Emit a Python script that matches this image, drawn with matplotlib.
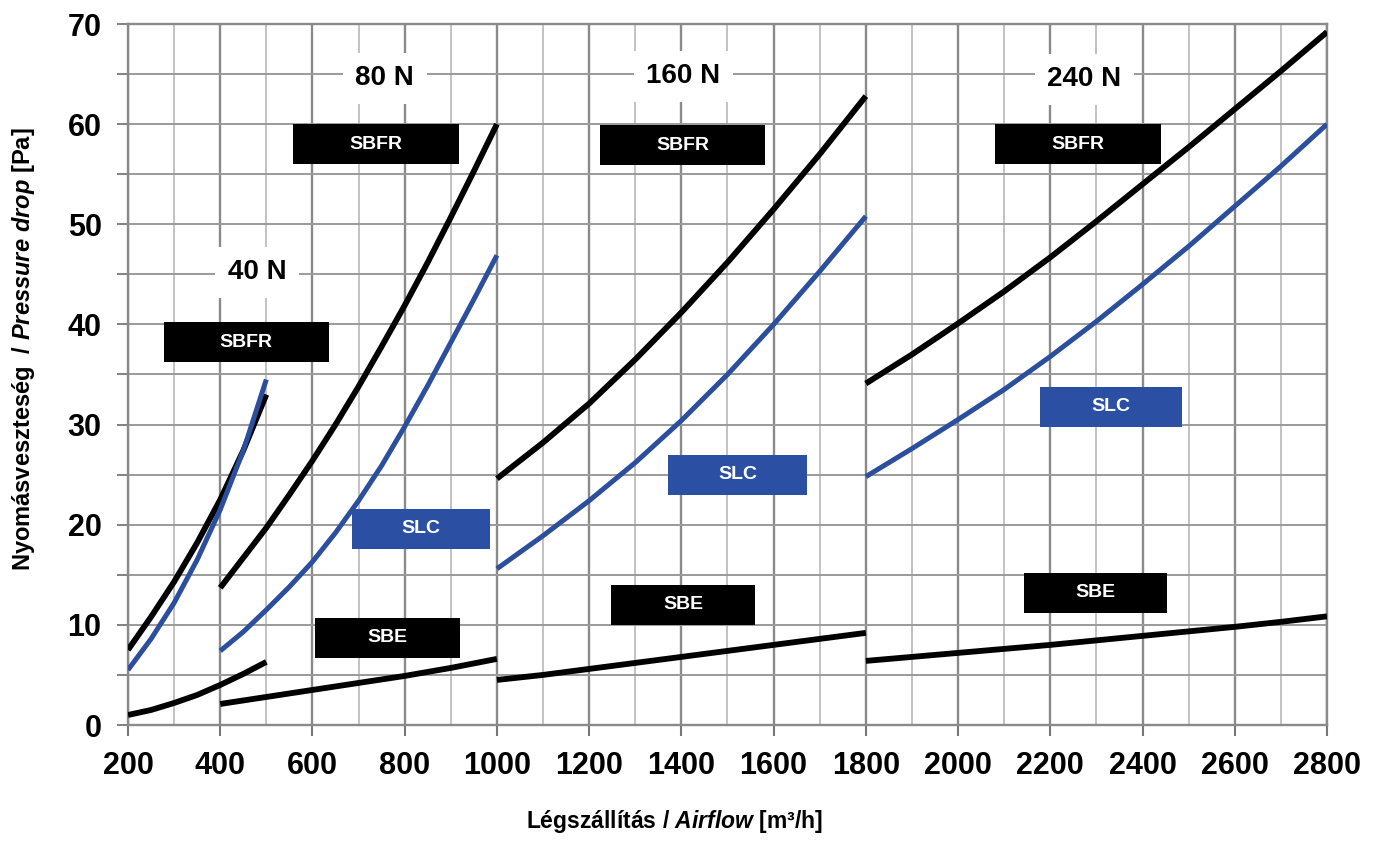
import numpy as np
import matplotlib
matplotlib.use("Agg")
import matplotlib.pyplot as plt
from matplotlib.patches import Rectangle
from matplotlib.ticker import MultipleLocator

# ---- data (airflow m3/h -> pressure drop Pa) ----
x_40 = [200, 250, 300, 350, 400, 450, 500]
sbfr_40 = [7.5, 10.8, 14.3, 18.2, 22.5, 27.4, 33.0]
slc_40 = [5.5, 8.6, 12.2, 16.5, 21.5, 27.4, 34.5]
sbe_40 = [1.0, 1.5, 2.2, 3.0, 4.0, 5.1, 6.3]

x_80 = [400, 450, 500, 550, 600, 650, 700, 750, 800, 850, 900, 950, 1000]
sbfr_80 = [13.7, 16.7, 19.7, 23.0, 26.4, 30.0, 33.8, 37.8, 41.9, 46.2, 50.7, 55.3, 60.0]
slc_80 = [7.4, 9.3, 11.5, 13.8, 16.3, 19.2, 22.4, 25.9, 29.8, 33.9, 38.2, 42.5, 46.9]
sbe_80 = [2.1, 2.45, 2.8, 3.15, 3.5, 3.85, 4.2, 4.55, 4.9, 5.3, 5.7, 6.15, 6.6]

x_160 = [1000, 1100, 1200, 1300, 1400, 1500, 1600, 1700, 1800]
sbfr_160 = [24.6, 28.2, 32.1, 36.5, 41.2, 46.2, 51.5, 57.0, 62.8]
slc_160 = [15.6, 18.9, 22.4, 26.2, 30.4, 35.0, 40.0, 45.3, 50.8]
sbe_160 = [4.5, 5.0, 5.6, 6.2, 6.8, 7.4, 8.0, 8.6, 9.2]

x_240 = [1800, 1900, 2000, 2100, 2200, 2300, 2400, 2500, 2600, 2700, 2800]
sbfr_240 = [34.1, 37.0, 40.1, 43.3, 46.7, 50.3, 54.0, 57.7, 61.5, 65.3, 69.2]
slc_240 = [24.8, 27.6, 30.5, 33.5, 36.8, 40.3, 44.0, 47.8, 51.8, 55.8, 60.0]
sbe_240 = [6.4, 6.8, 7.2, 7.6, 8.0, 8.45, 8.9, 9.35, 9.8, 10.3, 10.85]

force_labels = ['40 N', '80 N', '160 N', '240 N']
x_ticks = list(range(200, 2801, 200))
y_ticks = list(range(0, 71, 10))

# ---- layout of annotations ----
force_pos = [(480, 45.2), (757, 64.6), (1404, 64.8), (2274, 64.5)]
# (text, x_left, y_bottom, width)
boxes = [
    ('SBFR', 277, 36.2, 358), ('SBFR', 558, 56.0, 359),
    ('SBFR', 1224, 55.9, 358), ('SBFR', 2081, 56.0, 358),
    ('SLC', 686, 17.6, 300), ('SLC', 1370, 23.0, 303), ('SLC', 2177, 29.8, 309),
    ('SBE', 606, 6.7, 313), ('SBE', 1247, 10.0, 313), ('SBE', 2144, 11.2, 309),
]

BLACK = '#000000'
BLUE = '#2b4f9c'
BOX_BLUE = '#2b50a3'

plt.rcParams['font.family'] = ['Liberation Sans', 'DejaVu Sans']
plt.rcParams['mathtext.fontset'] = 'custom'
plt.rcParams['mathtext.it'] = 'Liberation Sans:italic:bold'
plt.rcParams['mathtext.rm'] = 'Liberation Sans:bold'

fig = plt.figure(figsize=(13.73, 8.47), dpi=100)
ax = fig.add_axes([128 / 1373, 1 - 725 / 847, 1199 / 1373, 701 / 847])

ax.set_xlim(200, 2800)
ax.set_ylim(0, 70)
ax.set_xticks(x_ticks)
ax.xaxis.set_minor_locator(MultipleLocator(100))
ax.set_yticks(y_ticks)
ax.yaxis.set_minor_locator(MultipleLocator(5))
ax.set_axisbelow(True)
ax.grid(which='major', axis='x', color='#8a8a8a', lw=1.7)
ax.grid(which='minor', axis='x', color='#b8b8b8', lw=1.2)
ax.grid(which='both', axis='y', color='#9a9a9a', lw=1.4)
for s in ax.spines.values():
    s.set_color('#8a8a8a')
    s.set_linewidth(1.7)

ax.tick_params(axis='x', which='major', length=8, width=1.5, color='#777777',
               pad=11, labelsize=22)
ax.tick_params(axis='x', which='minor', length=0)
ax.tick_params(axis='y', which='both', length=8, width=1.3, color='#777777',
               pad=11, labelsize=22)
for lab in ax.get_xticklabels() + ax.get_yticklabels():
    lab.set_fontweight('bold')

groups = [
    (x_40, sbfr_40, slc_40, sbe_40),
    (x_80, sbfr_80, slc_80, sbe_80),
    (x_160, sbfr_160, slc_160, sbe_160),
    (x_240, sbfr_240, slc_240, sbe_240),
]
for xs, sbfr, slc, sbe in groups:
    ax.plot(xs, sbfr, color=BLACK, lw=4.2, solid_capstyle='butt', zorder=5)
    ax.plot(xs, slc, color=BLUE, lw=3.6, solid_capstyle='butt', zorder=5)
    ax.plot(xs, sbe, color=BLACK, lw=4.2, solid_capstyle='butt', zorder=5)

for txt, (px, py) in zip(force_labels, force_pos):
    ax.text(px, py, txt, ha='center', va='center', fontsize=20, fontweight='bold',
            zorder=3, bbox=dict(boxstyle='square,pad=0.45', fc='white', ec='none'))

for txt, x0, y0, w in boxes:
    col = BOX_BLUE if txt == 'SLC' else BLACK
    ax.add_patch(Rectangle((x0, y0), w, 4.0, color=col, zorder=4, lw=0))
    ax.text(x0 + w / 2, y0 + 2.0, txt, ha='center', va='center', color='white',
            fontsize=14, fontweight='bold', zorder=6)

fig.text(24 / 1373, 1 - 349 / 847,
         r'Nyomásveszteség  / $\mathit{Pressure\ drop}$ [Pa]',
         rotation=90, ha='center', va='center', fontsize=17, fontweight='bold')
fig.text(674 / 1373, 1 - 828 / 847,
         r'Légszállítás / $\mathit{Airflow}$ [m³/h]',
         ha='center', va='baseline', fontsize=16.5, fontweight='bold')

fig.savefig('out.png', dpi=100)
